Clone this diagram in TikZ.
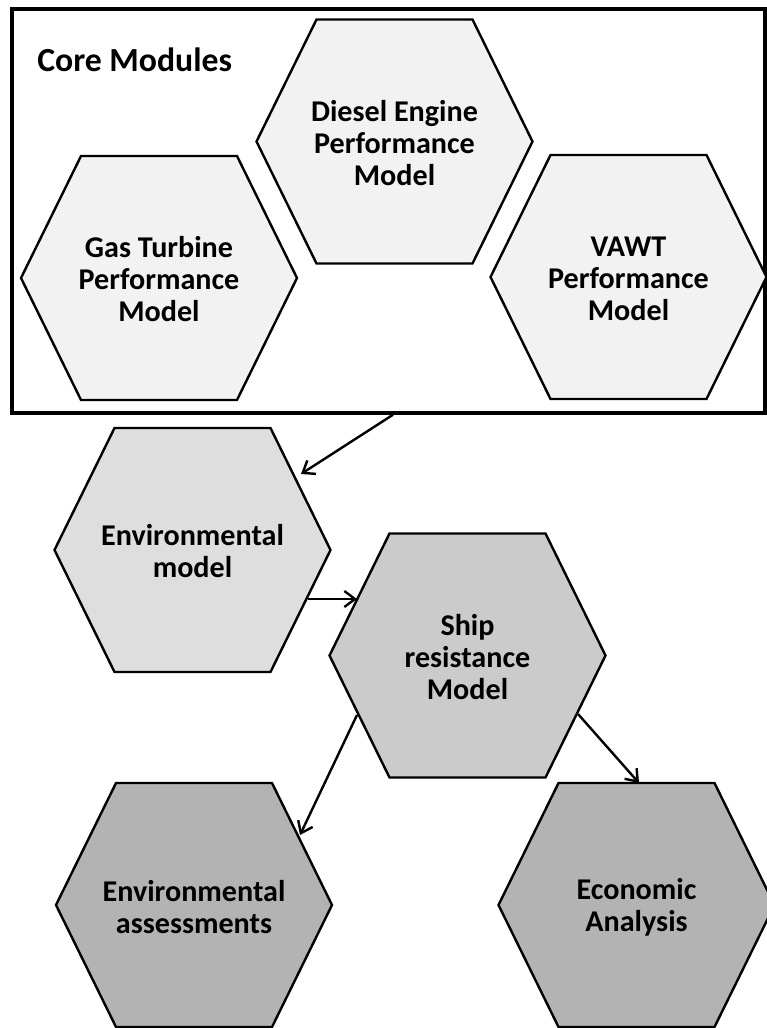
\documentclass[tikz,border=0pt]{standalone}
\usepackage{fontspec}
\setmainfont{Carlito}
\usetikzlibrary{arrows.meta,calc}
\definecolor{corefill}{HTML}{F2F2F2}
\definecolor{envfill}{HTML}{DEDEDE}
\definecolor{shipfill}{HTML}{CBCBCB}
\definecolor{botfill}{HTML}{B3B3B3}
\newcommand\hexshape[2]{%
  \filldraw[hexborder, fill=#2] (#1) +(-138,0) -- +(-78,-122) -- +(78,-122)
    -- +(138,0) -- +(78,122) -- +(-78,122) -- cycle;}
\begin{document}
\begin{tikzpicture}[x=0.75pt, y=-0.75pt,
  hexborder/.style={draw=black, line width=1.8pt, line join=miter},
  hextext/.style={align=center, inner sep=0pt, font=\fontsize{22.6pt}{23.8pt}\selectfont\bfseries},
  corebox/.style={draw=black, line width=2.6pt, minimum width=564.75pt, minimum height=303pt, inner sep=0pt},
  titletext/.style={anchor=base west, inner sep=0pt, font=\fontsize{25.3pt}{28pt}\selectfont\bfseries},
  conn/.style={draw=black, line width=1.8pt, -{Straight Barb[length=8pt,width=12pt,line width=1.8pt]}}
]
\useasboundingbox (0,0) rectangle (767,1028);

% Core modules frame
\node[corebox] (core) at (388.5,211) {};
\node[titletext] (title) at (37,71) {Core Modules};

% Core hexagons
\hexshape{394.5,141.5}{corefill}
\node[hextext] (diesel) at (394.5,143) {Diesel Engine\\Performance\\Model};
\hexshape{159,278}{corefill}
\node[hextext] (gas) at (159,279) {Gas Turbine\\Performance\\Model};
\hexshape{628.5,277}{corefill}
\node[hextext] (vawt) at (628.5,279) {VAWT\\Performance\\Model};

% Environmental model
\hexshape{192.5,550}{envfill}
\node[hextext] (env) at (192.5,551) {Environmental\\model};

% Ship resistance
\hexshape{467.5,655.5}{shipfill}
\node[hextext] (ship) at (467.5,657) {Ship\\resistance\\Model};

% Bottom hexagons
\hexshape{194,905}{botfill}
\node[hextext] (assess) at (194,907) {Environmental\\assessments};
\hexshape{636.5,905}{botfill}
\node[hextext] (econ) at (636.5,907) {Economic\\Analysis};

% connector end points
\coordinate (c1s) at ($(core.south)+(4.5,0)$);
\coordinate (c1e) at ($(env)+(108.5,-77)$);
\coordinate (c2s) at ($(env)+(115.5,48)$);
\coordinate (c2e) at ($(ship)+(-110.5,-58)$);
\coordinate (c3s) at ($(ship)+(-110.5,58)$);
\coordinate (c3e) at ($(assess)+(106,-72)$);
\coordinate (c4s) at ($(ship)+(110.5,57)$);
\coordinate (c4e) at ($(econ)+(2.5,-124)$);

\draw[conn] (c1s) -- (c1e);
\draw[conn] (c2s) -- (c2e);
\draw[conn] (c3s) -- (c3e);
\draw[conn] (c4s) -- (c4e);
\end{tikzpicture}
\end{document}
